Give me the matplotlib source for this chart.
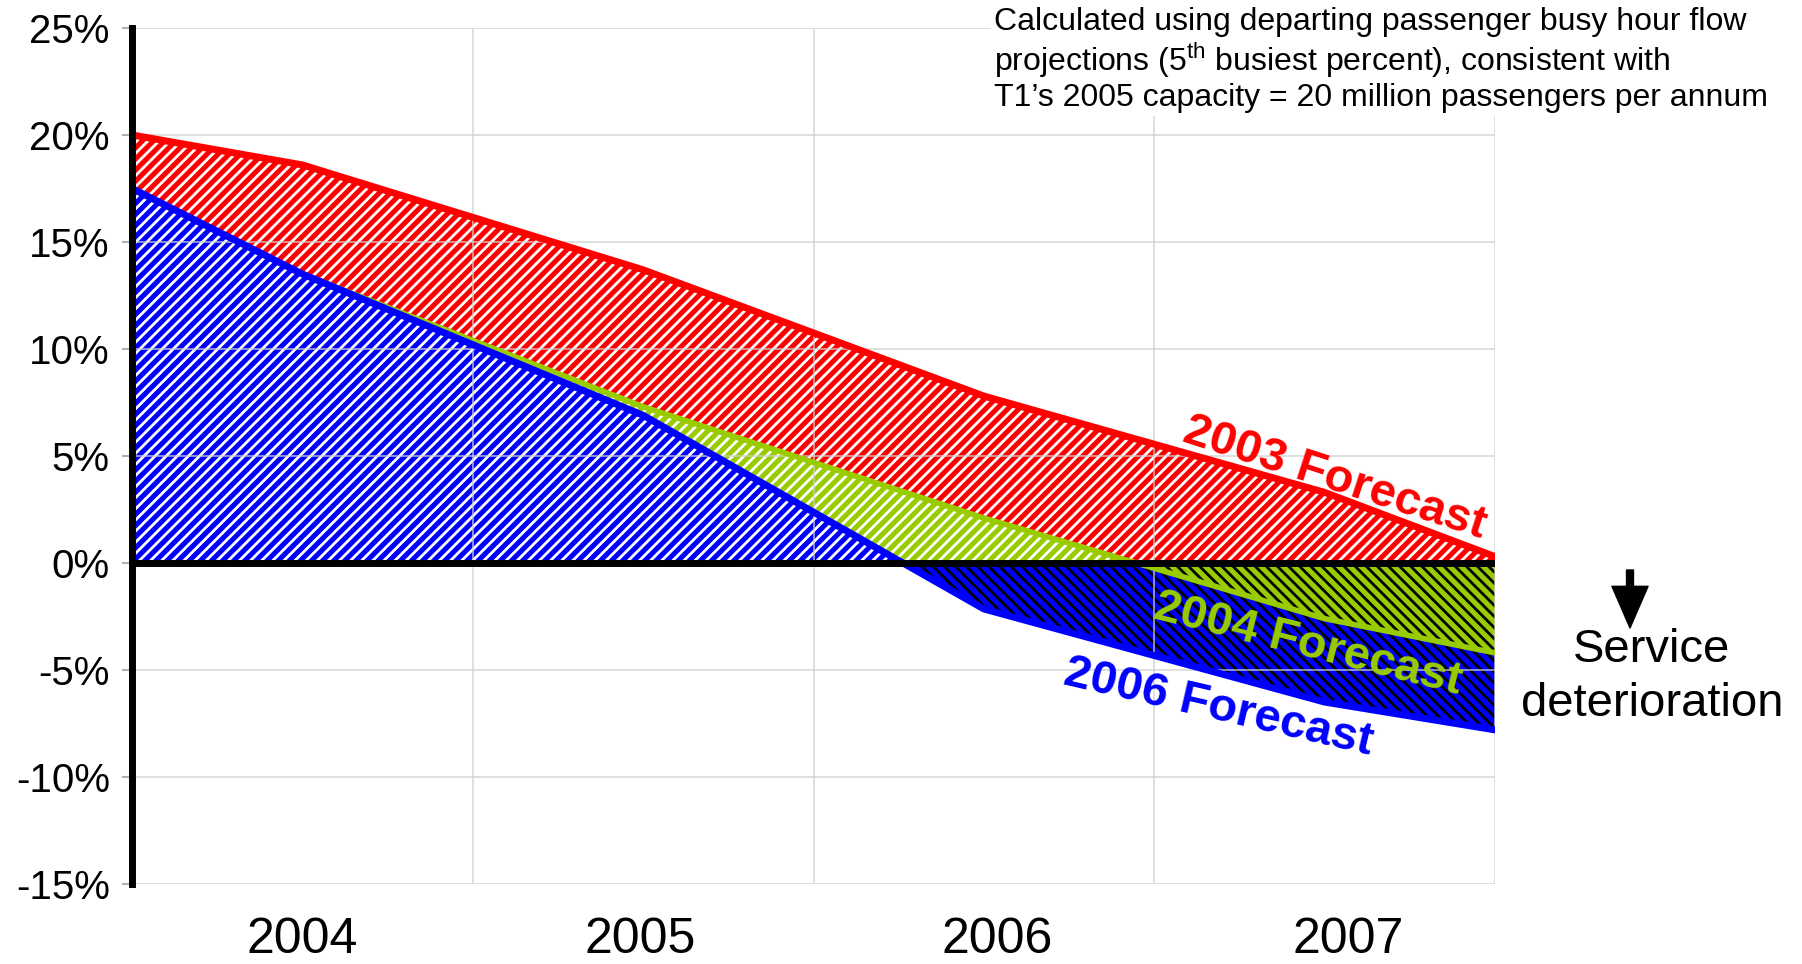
import numpy as np
import matplotlib
matplotlib.use('Agg')
import matplotlib.pyplot as plt

plt.rcParams['font.family'] = ['Liberation Sans', 'DejaVu Sans']
plt.rcParams['hatch.linewidth'] = 2.0

# x: 0 = start of 2004, 1 = start of 2005 ...
x_pts = [0.0, 0.5, 1.5, 2.5, 3.5, 4.0]
fc_2003 = [20.0, 18.6, 13.7, 7.8, 3.3, 0.3]
fc_2004 = [17.5, 13.5, 7.3, 2.1, -2.6, -4.2]
fc_2006 = [17.5, 13.5, 6.9, -2.15, -6.5, -7.8]

years = ['2004', '2005', '2006', '2007']
year_pos = [0.5, 1.49, 2.54, 3.57]
y_ticks = [-15, -10, -5, 0, 5, 10, 15, 20, 25]

red = '#ff0000'
green = '#99cc00'
blue = '#0000ff'

x = np.array(x_pts)
r = np.array(fc_2003)
g = np.array(fc_2004)
b = np.array(fc_2006)

fig = plt.figure(figsize=(18.02, 9.64), dpi=100)
ax = fig.add_axes([0.0733, 0.083, 0.8296 - 0.0733, 0.971 - 0.083])

# fills above zero (layered: red, then green, then blue on top)
ax.fill_between(x, 0, r, facecolor=red, edgecolor='white', hatch='///', linewidth=0, zorder=1)
ax.fill_between(x, 0, g, where=g > 0, interpolate=True, facecolor=green, edgecolor='white',
                hatch='///', linewidth=0, zorder=1.1)
ax.fill_between(x, 0, b, where=b > 0, interpolate=True, facecolor=blue, edgecolor='white',
                hatch='///', linewidth=0, zorder=1.2)
# fills below zero
ax.fill_between(x, 0, b, where=b < 0, interpolate=True, facecolor=blue, edgecolor='black',
                hatch='\\\\\\', linewidth=0, zorder=1.3)
ax.fill_between(x, 0, g, where=g < 0, interpolate=True, facecolor=green, edgecolor='black',
                hatch='\\\\\\', linewidth=0, zorder=1.4)

ax.plot(x, g, color=green, lw=4, zorder=3, solid_joinstyle='round')
ax.plot(x, b, color=blue, lw=5, zorder=3.1, solid_joinstyle='round')
ax.plot(x, r, color=red, lw=5, zorder=3.2, solid_joinstyle='round')
ax.axhline(0, color='black', lw=5, zorder=4)

ax.set_xlim(0, 4)
ax.set_ylim(-15, 25)
ax.set_yticks(y_ticks)
ax.set_yticklabels(['%d%%' % v for v in y_ticks], fontsize=29)
ax.set_xticks([1, 2, 3, 4])
ax.set_xticklabels([])
ax.set_xticks(year_pos, minor=True)
ax.set_xticklabels(years, minor=True, fontsize=36)
ax.tick_params(axis='x', which='both', length=0)
ax.tick_params(axis='x', which='minor', pad=24)
ax.tick_params(axis='y', length=7, width=1.5, color='#b0b0b0', pad=9)
ax.grid(True, which='major', color='#d0d0d0', lw=1.2, alpha=0.8, zorder=2.5)
ax.set_axisbelow(False)

for s in ['top', 'right', 'bottom']:
    ax.spines[s].set_visible(False)
ax.spines['left'].set_linewidth(5)
ax.spines['left'].set_zorder(5)

ax.text(3.53, 3.97, '2003 Forecast', color=red, fontsize=34, fontweight='bold',
        rotation=-18, ha='center', va='center', rotation_mode='anchor', zorder=6)
ax.text(3.45, -3.83, '2004 Forecast', color=green, fontsize=34, fontweight='bold',
        rotation=-14, ha='center', va='center', rotation_mode='anchor', zorder=6)
ax.text(3.19, -6.78, '2006 Forecast', color=blue, fontsize=34, fontweight='bold',
        rotation=-13, ha='center', va='center', rotation_mode='anchor', zorder=6)

fig.text(994 / 1802, 1 - 7 / 964,
         'Calculated using departing passenger busy hour flow\n'
         'projections (5$^{\\mathregular{th}}$ busiest percent), consistent with\n'
         'T1\u2019s 2005 capacity = 20 million passengers per annum',
         fontsize=23, ha='left', va='top', linespacing=1.12,
         bbox=dict(facecolor='white', edgecolor='none', pad=2))

fig.text(1652 / 1802, 1 - 677 / 964, 'Service\ndeterioration', fontsize=34,
         ha='center', va='center', multialignment='center', linespacing=1.3)
ax.annotate('', xy=(1630 / 1802, 1 - 628 / 964), xytext=(1630 / 1802, 1 - 570 / 964),
            xycoords='figure fraction', textcoords='figure fraction',
            arrowprops=dict(facecolor='black', edgecolor='black', width=5, headwidth=26,
                            headlength=30, shrink=0))

fig.savefig('out.png', dpi=100)
